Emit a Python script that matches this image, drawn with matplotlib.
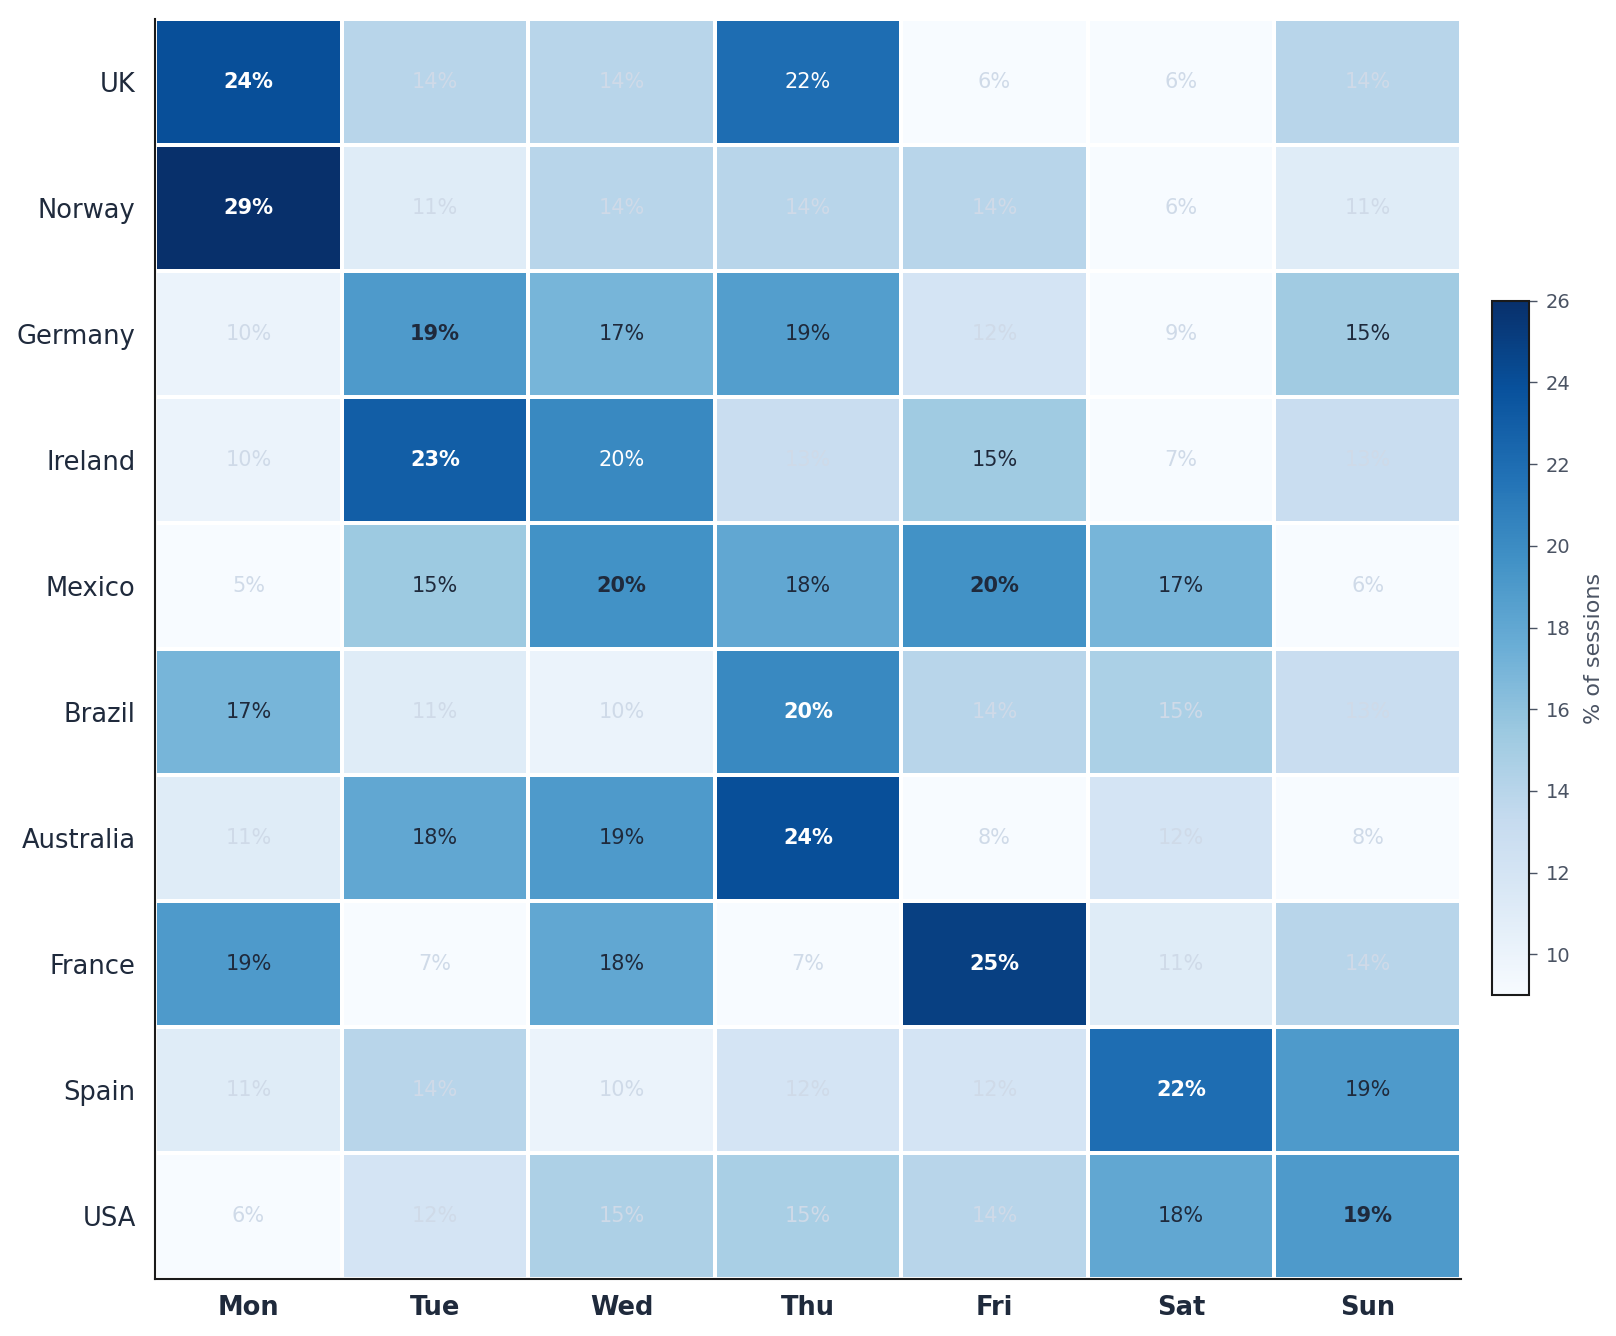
import numpy as np
import matplotlib
matplotlib.use("Agg")
import matplotlib.pyplot as plt

# Share of sessions (%) per country and weekday
countries = ["UK", "Norway", "Germany", "Ireland", "Mexico",
             "Brazil", "Australia", "France", "Spain", "USA"]
days = ["Mon", "Tue", "Wed", "Thu", "Fri", "Sat", "Sun"]

uk        = [24.0, 14.0, 14.0, 22.0, 6.0, 6.0, 14.0]
norway    = [29.0, 11.0, 14.0, 14.0, 14.0, 6.0, 11.0]
germany   = [10.0, 19.0, 17.0, 18.7, 12.0, 9.0, 15.2]
ireland   = [10.0, 23.0, 20.2, 13.0, 15.3, 7.0, 13.0]
mexico    = [5.0, 15.4, 19.6, 18.0, 19.6, 17.0, 6.0]
brazil    = [17.0, 11.0, 10.0, 20.2, 14.0, 14.7, 13.0]
australia = [11.0, 18.0, 19.0, 24.0, 8.0, 12.0, 8.0]
france    = [19.0, 7.0, 18.0, 7.0, 25.0, 11.0, 14.0]
spain     = [11.0, 14.0, 10.0, 12.0, 12.0, 22.0, 19.0]
usa       = [6.0, 12.0, 14.6, 14.8, 14.0, 18.0, 19.0]

data = np.array([uk, norway, germany, ireland, mexico,
                 brazil, australia, france, spain, usa])

ink = "#1f2a3c"
faded = "#cfdae8"

fig = plt.figure(figsize=(16.16, 13.36), dpi=100)
ax = fig.add_axes([0.096, 0.043, 0.808, 0.943])
cax = fig.add_axes([0.923, 0.255, 0.023, 0.520])

mesh = ax.pcolormesh(data, cmap="Blues", vmin=9, vmax=26,
                     edgecolors="white", linewidth=1.6)
ax.set_xlim(0, len(days))
ax.set_ylim(len(countries), 0)

ax.set_xticks(np.arange(len(days)) + 0.5)
ax.set_xticklabels(days, fontsize=18.5, fontweight="bold", color=ink)
ax.set_yticks(np.arange(len(countries)) + 0.5)
ax.set_yticklabels(countries, fontsize=18.5, color=ink)
ax.tick_params(axis="y", length=0, pad=14)
ax.tick_params(axis="x", length=0, pad=12)

for side in ["top", "right"]:
    ax.spines[side].set_visible(False)
for side in ["left", "bottom"]:
    ax.spines[side].set_color("#1a1a1a")
    ax.spines[side].set_linewidth(1.5)

# annotate each cell: faded for low values, dark for mid, white for high
for i in range(data.shape[0]):
    row_max = data[i].max()
    for j in range(data.shape[1]):
        v = data[i, j]
        if v >= 20:
            col = "white"
        elif v >= 15:
            col = ink
        else:
            col = faded
        weight = "bold" if v == row_max else "normal"
        ax.text(j + 0.5, i + 0.5, f"{v:.0f}%", ha="center", va="center",
                fontsize=15, color=col, fontweight=weight)

cb = fig.colorbar(mesh, cax=cax)
cb.set_ticks([10, 12, 14, 16, 18, 20, 22, 24, 26])
cb.ax.tick_params(labelsize=14, colors="#4a5363", length=6, width=1, pad=6)
cb.outline.set_edgecolor("#1a1a1a")
cb.outline.set_linewidth(1.5)
cb.set_label("% of sessions", fontsize=16, color="#4a5363", labelpad=10)

fig.savefig("out.png", dpi=100, facecolor="white")
